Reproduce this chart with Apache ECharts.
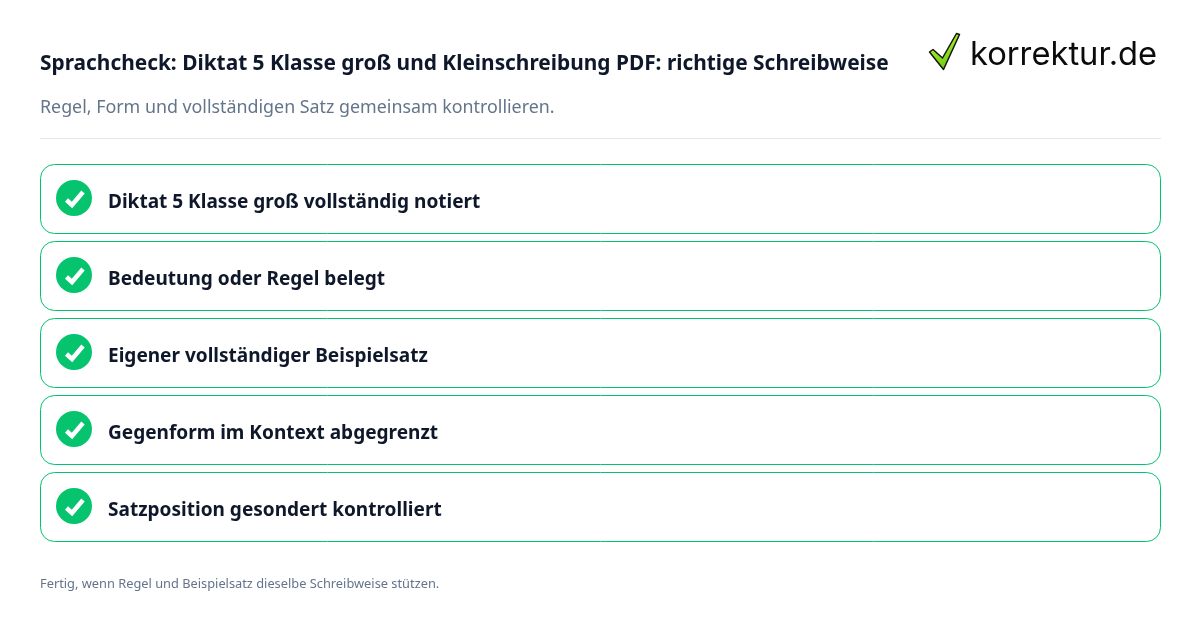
<!DOCTYPE html>
<html><head><meta charset="utf-8">
<style>html,body{margin:0;padding:0;background:#fff}#c{width:1200px;height:630px}</style>
<script src="https://cdn.jsdelivr.net/npm/echarts@6/dist/echarts.min.js"></script></head>
<body><div id="c"></div>
<script>
const titleText = "Sprachcheck: Diktat 5 Klasse groß und Kleinschreibung PDF: richtige Schreibweise";
const subtitleText = "Regel, Form und vollständigen Satz gemeinsam kontrollieren.";
const footerText = "Fertig, wenn Regel und Beispielsatz dieselbe Schreibweise stützen.";
const logoText = "korrektur.de";
const categories = [
  "Diktat 5 Klasse groß vollständig notiert",
  "Bedeutung oder Regel belegt",
  "Eigener vollständiger Beispielsatz",
  "Gegenform im Kontext abgegrenzt",
  "Satzposition gesondert kontrolliert"
];
const checked = [1, 1, 1, 1, 1];
const FONT = '"Noto Sans", sans-serif';
const chart = echarts.init(document.getElementById('c'), null, {renderer:'canvas'});
chart.setOption({
  animation:false,
  backgroundColor:'#ffffff',
  title:[
    {text:titleText,left:40,top:49,padding:0,textStyle:{fontFamily:FONT,fontSize:20.87,fontWeight:700,color:'#0f172a',lineHeight:30}},
    {text:subtitleText,left:40,top:94,padding:0,textStyle:{fontFamily:FONT,fontSize:17.83,fontWeight:400,color:'#64748b',lineHeight:27}},
    {text:footerText,left:40,top:575,padding:0,textStyle:{fontFamily:FONT,fontSize:12.82,fontWeight:400,color:'#64748b',lineHeight:18}}
  ],
  grid:{left:40,right:40,top:161,height:385},
  xAxis:{type:'value',min:0,max:1,show:false},
  yAxis:{type:'category',data:categories,inverse:true,show:false},
  graphic:[
    {type:'rect',shape:{x:40,y:138,width:1121,height:1},style:{fill:'#e2e8f0'},silent:true},
    {type:'polygon',shape:{points:[[929.5,52],[933,49.5],[942.5,58],[956.5,33.5],[959.5,34.5],[943.5,69.5]]},
     style:{fill:new echarts.graphic.LinearGradient(0.2,0,0.8,1,[{offset:0,color:'#bdf92c'},{offset:1,color:'#62c40c'}]),stroke:'#141414',lineWidth:1.5,lineJoin:'round'}},
    {type:'text',style:{text:logoText,x:970,y:55,verticalAlign:'middle',fontFamily:'Inter, sans-serif',fontSize:32.7,fontWeight:400,fill:'#0b0b0b'}}
  ],
  series:[{
    type:'custom',
    coordinateSystem:'cartesian2d',
    encode:{x:0,y:1},
    data:categories.map((c,i)=>[checked[i],i,c]),
    renderItem(params,api){
      const left=api.coord([0,api.value(1)]);
      const right=api.coord([1,api.value(1)]);
      const cy=left[1];
      const x=left[0],w=right[0]-left[0];
      const cx=x+34, ccy=cy-1.5;
      return {type:'group',children:[
        {type:'rect',shape:{x:x+.5,y:cy-35,width:w,height:69,r:14},style:{fill:'#fff',stroke:'#00c46f',lineWidth:1}},
        {type:'circle',shape:{cx,cy:ccy,r:18},style:{fill:'#06c46e'}},
        {type:'polyline',shape:{points:[[cx-7.5,ccy+2],[cx-2,ccy+7],[cx+9,ccy-6]]},style:{fill:'none',stroke:'#fff',lineWidth:4.5}},
        {type:'text',style:{text:api.value(2),x:x+68,y:cy+3,verticalAlign:'middle',fontFamily:FONT,fontSize:19.05,fontWeight:700,fill:'#0f172a'}}
      ]};
    }
  }]
});
</script></body></html>
